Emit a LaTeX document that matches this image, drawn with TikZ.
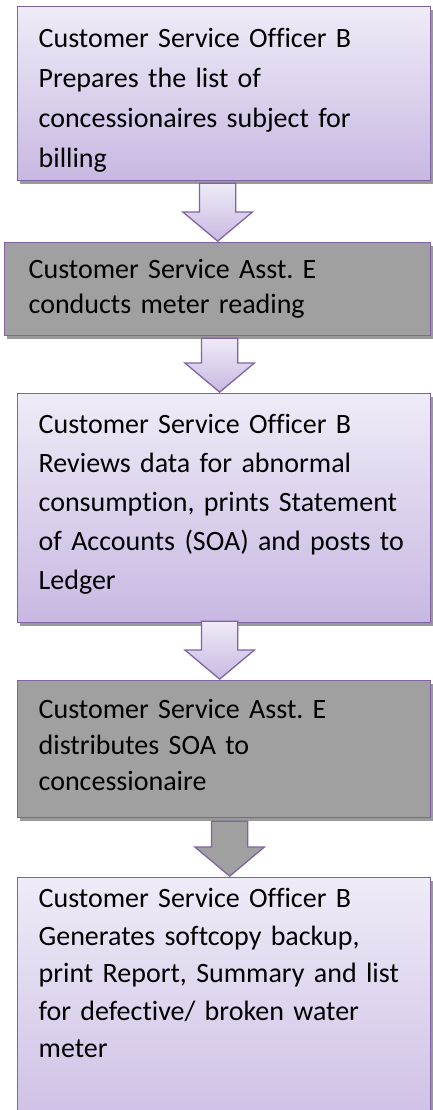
\documentclass[tikz,border=0pt]{standalone}
\usepackage{fontspec}
\setmainfont{Carlito}[Ligatures=CommonOff]
\usetikzlibrary{shapes.arrows,shadows}

\definecolor{boxline}{HTML}{8064A2}
\definecolor{boxtop}{HTML}{EFEBF7}
\definecolor{boxbot}{HTML}{C8B8E2}
\definecolor{boxgray}{HTML}{A0A0A0}

\frenchspacing

\begin{document}
\begin{tikzpicture}[
x=1pt, y=-1pt,
stepbox/.style={
draw=boxline,
line width=1.3pt,
anchor=north west,
align=left,
inner xsep=21pt,
inner ysep=0pt,
text width=371pt,
drop shadow={shadow xshift=2pt, shadow yshift=-3pt, fill=black!40, opacity=1}
},
lilac/.style={stepbox, top color=boxtop, bottom color=boxbot},
grey/.style={stepbox, fill=boxgray},
downarrow/.style={
draw=boxline,
line width=1.3pt,
single arrow,
shape border rotate=270,
anchor=tip,
minimum height=#1,
single arrow head extend=16.5pt,
single arrow tip angle=100,
inner xsep=17.5pt,
inner ysep=0pt
},
lilacarrow/.style={downarrow=#1, top color=boxtop, bottom color=boxbot},
greyarrow/.style={downarrow=#1, fill=boxgray}
]

\useasboundingbox (0,0) rectangle (432,1110);

\node[lilac, text height=41pt, text depth=133pt,
font=\fontsize{28}{40}\selectfont] (b1) at (17,6)
{Customer Service Officer B\\Prepares the list of\\concessionaires subject for\\billing};

\node[grey, inner xsep=24pt, text width=378pt, text height=36pt, text depth=57pt,
font=\fontsize{28}{35}\selectfont] (b2) at (4,242)
{Customer Service Asst. E\\conducts meter reading};

\node[lilac, text height=40pt, text depth=189pt,
font=\fontsize{28}{39}\selectfont] (b3) at (17,393)
{Customer Service Officer B\\Reviews data for abnormal\\consumption, prints Statement\\of Accounts (SOA) and posts to\\Ledger};

\node[grey, text height=38pt, text depth=99pt,
font=\fontsize{28}{36}\selectfont] (b4) at (17,680)
{Customer Service Asst. E\\distributes SOA to\\concessionaire};

\node[lilac, text height=30pt, text depth=260pt,
font=\fontsize{28}{37.5}\selectfont] (b5) at (17,877)
{Customer Service Officer B\\Generates softcopy backup,\\print Report, Summary and list\\for defective/ broken water\\meter};

% block arrows between the steps
\node[lilacarrow=58pt] (a1) at (b2.north) {};
\node[lilacarrow=54pt] (a2) at ([xshift=-4.5pt]b3.north) {};
\node[lilacarrow=58pt] (a3) at ([xshift=-4.5pt]b4.north) {};
\node[greyarrow=55pt] (a4) at ([xshift=5.5pt]b5.north) {};

\end{tikzpicture}
\end{document}
